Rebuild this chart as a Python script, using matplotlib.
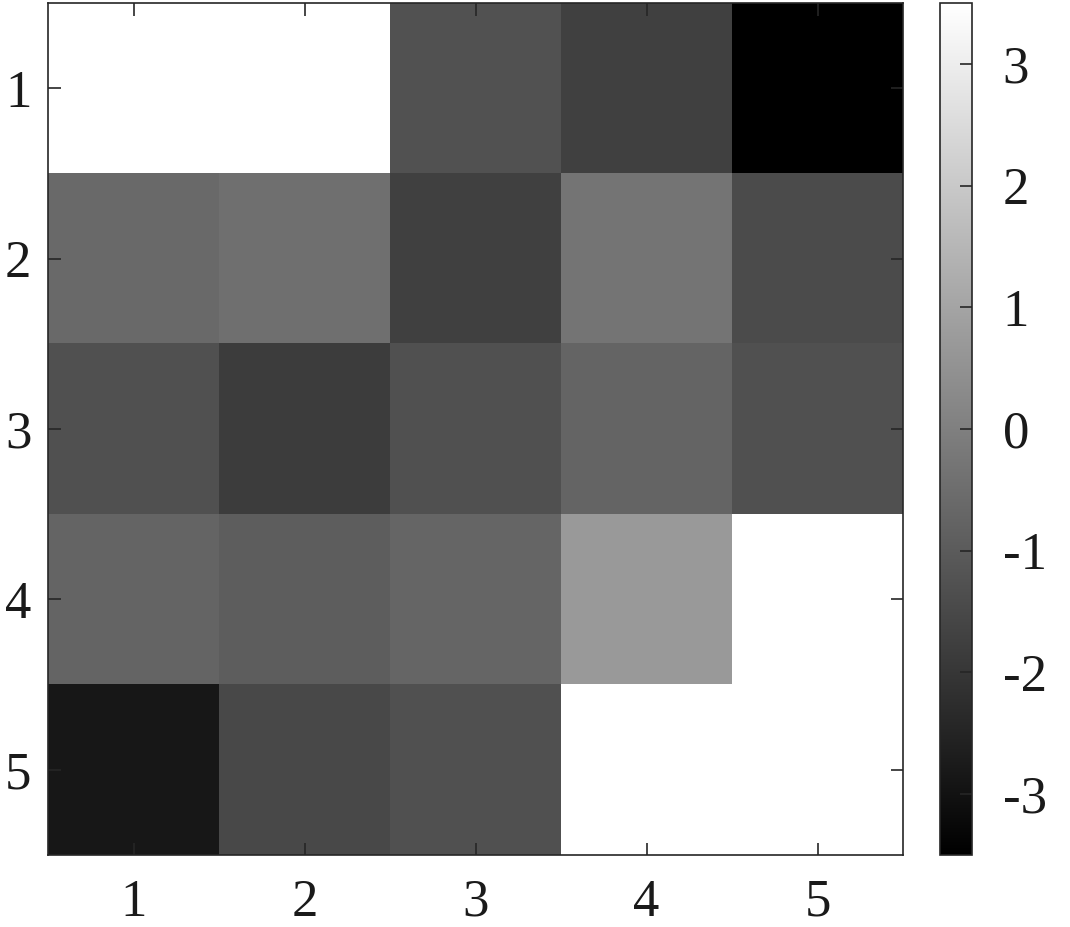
import matplotlib
matplotlib.use("Agg")
import matplotlib.pyplot as plt
import numpy as np

rows = [1, 2, 3, 4, 5]
cols = [1, 2, 3, 4, 5]
row1 = [4.0, 4.0, -1.25, -1.74, -3.8]
row2 = [-0.62, -0.45, -1.74, -0.32, -1.44]
row3 = [-1.30, -1.83, -1.30, -0.76, -1.30]
row4 = [-0.76, -0.95, -0.73, 0.70, 4.0]
row5 = [-2.87, -1.52, -1.30, 4.0, 4.0]
clim = (-3.5, 3.5)
cbar_ticks = [-3, -2, -1, 0, 1, 2, 3]

data = np.array([row1, row2, row3, row4, row5])

plt.rcParams['font.family'] = ['Liberation Serif', 'DejaVu Serif']
fs = 38

fig = plt.figure(figsize=(10.70, 9.27), dpi=100)
ax = fig.add_axes([48/1070, 1-855/927, (903-48)/1070, 852/927])
im = ax.imshow(data, cmap='gray', vmin=clim[0], vmax=clim[1], aspect='auto',
               interpolation='nearest',
               extent=[cols[0]-0.5, cols[-1]+0.5, rows[-1]+0.5, rows[0]-0.5])
ax.set_xticks(cols)
ax.set_yticks(rows)
ax.set_xticklabels([str(c) for c in cols])
ax.set_yticklabels([str(r) for r in rows])
ax.tick_params(axis='x', pad=17)
ax.tick_params(axis='y', pad=12)
ax.tick_params(direction='in', length=9, width=1.2, top=True, right=True,
               labelsize=fs, color='#262626', labelcolor='#1a1a1a')
for s in ax.spines.values():
    s.set_linewidth(1.2)
    s.set_color('#262626')

cax = fig.add_axes([940/1070, 1-855/927, 32/1070, 852/927])
cb = fig.colorbar(im, cax=cax, ticks=cbar_ticks)
cb.ax.tick_params(direction='in', length=9, width=1.2, labelsize=fs,
                  color='#262626', labelcolor='#1a1a1a', pad=22)
cb.ax.set_yticklabels([str(t) for t in cbar_ticks])
cb.outline.set_linewidth(1.2)
cb.outline.set_edgecolor('#262626')

fig.savefig('out.png', dpi=100)
